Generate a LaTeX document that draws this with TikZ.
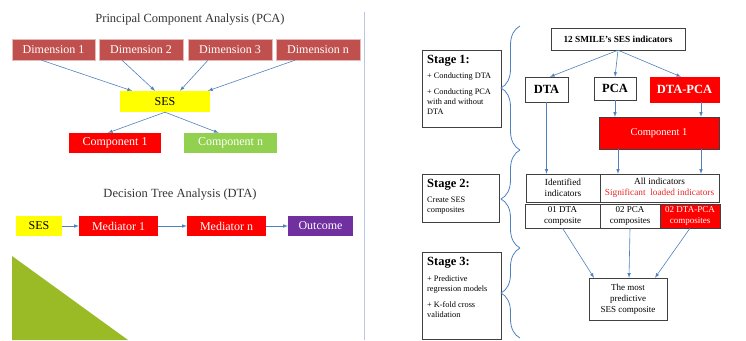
\documentclass[tikz,border=0pt]{standalone}
\usepackage{fontspec}
\setmainfont{Liberation Serif}
\usetikzlibrary{arrows,decorations.pathreplacing}

\definecolor{dimred}{RGB}{192,80,77}
\definecolor{sesyellow}{RGB}{255,255,0}
\definecolor{boxred}{RGB}{255,0,0}
\definecolor{compgreen}{RGB}{146,208,80}
\definecolor{outpurple}{RGB}{112,48,160}
\definecolor{arrowblue}{RGB}{79,129,189}
\definecolor{divblue}{RGB}{180,199,231}
\definecolor{olive}{RGB}{154,187,38}
\definecolor{textred}{RGB}{230,40,40}

\begin{document}
\begin{tikzpicture}[>=latex,x=1pt,y=-1pt,
  lbox/.style={inner sep=0pt,minimum height=21pt,font=\fontsize{12}{14}\selectfont},
  dimbox/.style={lbox,fill=dimred,draw=dimred!40,text=white},
  rbox/.style={draw=black!75,inner sep=0pt,align=center,font=\fontsize{9.3}{11}\selectfont},
  bigbox/.style={rbox,font=\fontsize{12.5}{14}\selectfont\bfseries},
  stagebox/.style={draw=black!75,inner sep=5pt,font=\fontsize{8.3}{10}\selectfont},
  arr/.style={->,color=arrowblue,line width=0.6pt},
  brc/.style={decorate,decoration={brace,amplitude=19pt},color=arrowblue,line width=0.8pt}]

\useasboundingbox (0,0) rectangle (746,340);

\def\stagefont{\fontsize{12.5}{14}\selectfont\bfseries}

% PCA
\node[font=\fontsize{12.5}{14}\selectfont,text=black!80] (pcatitle) at (190,20) {Principal Component Analysis (PCA)};
\node[dimbox,minimum width=83pt] (dim1) at (53.5,49.5) {Dimension 1};
\node[dimbox,minimum width=84pt] (dim2) at (141,49.5) {Dimension 2};
\node[dimbox,minimum width=84pt] (dim3) at (230,49.5) {Dimension 3};
\node[dimbox,minimum width=84pt] (dimn) at (318,49.5) {Dimension n};
\node[lbox,fill=sesyellow,minimum width=90pt] (ses) at (165,101.5) {SES};
\node[lbox,fill=boxred,text=white,minimum width=92pt,minimum height=20pt] (comp1) at (115,143) {Component 1};
\node[lbox,fill=compgreen,text=white,minimum width=93pt,minimum height=20pt] (compn) at (230.5,143) {Component n};

\draw[arr] ([xshift=-12pt]dim1.south) -- ([xshift=-33pt]ses.north);
\draw[arr] ([xshift=-19pt]dim2.south) -- ([xshift=-10pt]ses.north);
\draw[arr] ([xshift=-22pt]dim3.south) -- ([xshift=15pt]ses.north);
\draw[arr] ([xshift=-23pt]dimn.south) -- ([xshift=43pt]ses.north);
\draw[arr] (ses.south) -- ([xshift=-7pt]comp1.north);
\draw[arr] (ses.south) -- ([xshift=-12pt]compn.north);

% DTA
\node[font=\fontsize{12.5}{14}\selectfont,text=black!80] (dtatitle) at (180,195) {Decision Tree Analysis (DTA)};
\node[lbox,fill=sesyellow,minimum width=46pt,minimum height=20pt] (ses2) at (39,226) {SES};
\node[lbox,fill=boxred,text=white,minimum width=79pt,minimum height=20pt] (med1) at (118.5,226) {Mediator 1};
\node[lbox,fill=boxred,text=white,minimum width=79pt,minimum height=20pt] (medn) at (226.5,226) {Mediator n};
\node[lbox,fill=outpurple,text=white,minimum width=65pt,minimum height=20pt] (outc) at (320.5,226) {Outcome};
\draw[arr] (ses2) -- (med1);
\draw[arr] (med1) -- (medn);
\draw[arr] (medn) -- (outc);

\fill[color=olive] (12,256)--(12,340)--(128,340)--cycle;

\draw[color=divblue,line width=0.8pt] (364,12)--(364,340);

% stages
\node[stagebox,anchor=north west] (st1) at (422,50) {\parbox[c][67pt][t]{69pt}{{\stagefont Stage 1:}\\[5pt]+ Conducting DTA\\[6pt]+ Conducting PCA\\ with and without\\ DTA}};
\node[stagebox,anchor=north west] (st2) at (422,174) {\parbox[c][38pt][t]{67pt}{{\stagefont Stage 2:}\\[5pt]Create SES\\ composites}};
\node[stagebox,anchor=north west] (st3) at (422,252) {\parbox[c][77pt][t]{69pt}{{\stagefont Stage 3:}\\[6pt]+ Predictive\\ regression models\\[6pt]+ K-fold cross\\ validation}};

\coordinate (b0) at (520,26);
\coordinate (b1) at (520,150);
\coordinate (b2) at (520,248);
\coordinate (b3) at (520,338);
\draw[brc] (b1) -- (b0);
\draw[brc] (b2) -- (b1);
\draw[brc] (b3) -- (b2);

% right flow
\node[rbox,font=\fontsize{9.3}{11}\selectfont\bfseries,minimum width=134pt,minimum height=22pt] (ind) at (618,39) {12 SMILE’s SES indicators};
\node[bigbox,minimum width=43pt,minimum height=25pt] (dta) at (546.5,89.5) {DTA};
\node[bigbox,minimum width=42pt,minimum height=23pt] (pca) at (615,88.5) {PCA};
\node[bigbox,fill=boxred,draw=boxred,text=white,minimum width=69pt,minimum height=25pt] (dtapca) at (684.5,89.5) {DTA-PCA};
\node[rbox,fill=boxred,text=white,font=\fontsize{10.5}{12}\selectfont,minimum width=120pt,minimum height=32pt] (comp) at (659,133) {Component 1};
\node[rbox,minimum width=74pt,minimum height=28pt] (ident) at (563,188) {Identified\\ indicators};
\node[rbox,minimum width=119pt,minimum height=28pt] (allind) at (659.5,188) {All indicators\\ \textcolor{textred}{Significant\ \ loaded indicators}};
\node[rbox,minimum width=75pt,minimum height=24pt,font=\fontsize{9}{10.5}\selectfont] (c01) at (562.5,216) {01 DTA\\ composite};
\node[rbox,minimum width=60pt,minimum height=24pt,font=\fontsize{9}{10.5}\selectfont] (c02) at (630,216) {02 PCA\\ composites};
\node[rbox,fill=boxred,text=white,minimum width=60pt,minimum height=24pt,font=\fontsize{9}{10.5}\selectfont] (c03) at (690,216) {02 DTA-PCA\\ composites};
\node[rbox,minimum width=78pt,minimum height=42pt,font=\fontsize{9}{11}\selectfont] (most) at (628,299) {The most\\ predictive\\ SES composite};

\draw[arr] (ind.south) -- ([xshift=3.5pt]dta.north);
\draw[arr] (ind.south) -- (pca.north);
\draw[arr] (ind.south) -- ([xshift=-3.5pt]dtapca.north);
\draw[arr] (pca.south) -- (pca.south |- comp.north);
\draw[arr] ([xshift=16.5pt]dtapca.south) -- ([xshift=16.5pt]dtapca.south |- comp.north);
\draw[arr] (dta.south) -- (dta.south |- ident.north);
\draw[arr] ([xshift=-41pt]comp.south) -- ([xshift=-41pt]comp.south |- allind.north);
\draw[arr] ([xshift=42pt]comp.south) -- ([xshift=42pt]comp.south |- allind.north);
\draw[arr] (c01.south) -- ([xshift=-34pt]most.north);
\draw[arr] (c02.south) -- ([xshift=1pt]most.north);
\draw[arr] (c03.south) -- ([xshift=27pt]most.north);

\end{tikzpicture}
\end{document}
